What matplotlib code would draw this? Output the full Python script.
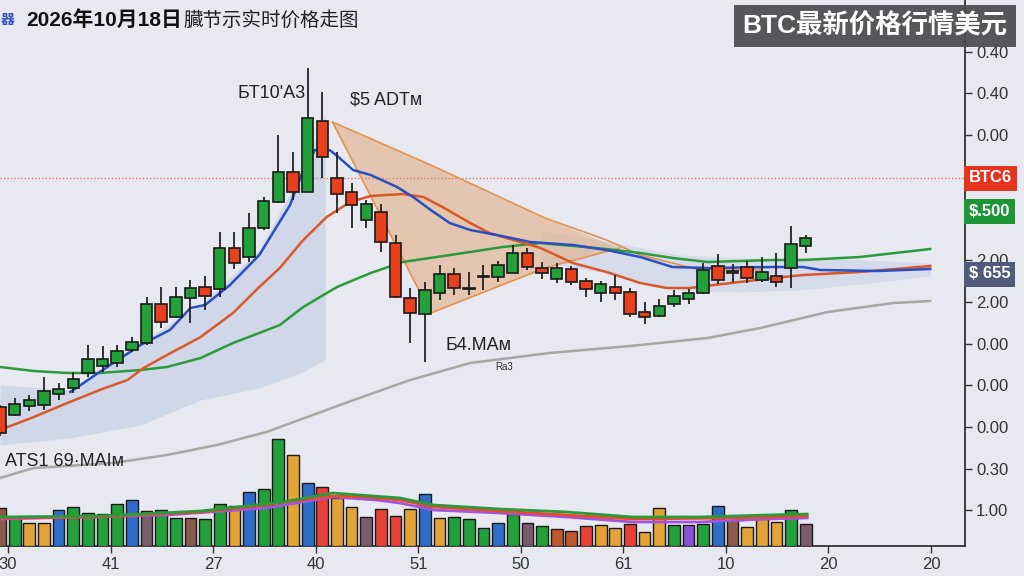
import numpy as np
import matplotlib
matplotlib.use("Agg")
import matplotlib.pyplot as plt
import matplotlib.transforms as mtransforms

plt.rcParams['font.family'] = ['Liberation Sans', 'Noto Sans CJK SC', 'DejaVu Sans']

# candles: open, high, low, close
opens  = [13.9, 13.1, 14.0, 14.1, 15.2, 15.8, 17.3, 18.0, 18.3, 19.6, 20.3, 24.2, 22.9, 24.8,
          25.9, 25.7, 29.8, 28.9, 31.8, 34.4, 37.4, 35.4, 42.5, 36.8, 35.4, 32.6, 33.4, 30.3,
          24.8, 23.2, 25.3, 27.2, 25.7, 26.9, 26.9, 27.3, 29.3, 27.8, 26.7, 27.7, 26.5, 25.3,
          25.9, 25.4, 23.4, 23.0, 24.2, 24.7, 25.3, 28.0, 27.3, 27.9, 26.6, 27.0, 27.8, 30.0]
highs  = [14.1, 14.8, 15.1, 16.9, 16.3, 17.4, 20.1, 20.0, 20.1, 20.9, 24.9, 25.9, 25.9, 26.6,
          27.0, 31.4, 31.4, 33.3, 34.9, 41.1, 39.4, 47.8, 45.4, 39.4, 36.3, 34.6, 34.2, 31.1,
          25.8, 26.4, 28.1, 27.8, 27.4, 28.1, 28.5, 30.1, 29.8, 28.4, 28.3, 28.0, 26.8, 26.5,
          27.1, 25.8, 24.4, 24.7, 25.6, 25.7, 28.3, 29.2, 28.2, 28.5, 28.9, 29.3, 32.0, 31.1]
lows   = [11.0, 13.0, 13.5, 13.6, 14.6, 15.3, 16.9, 17.4, 17.9, 19.4, 20.1, 21.8, 22.8, 22.3,
          23.6, 24.9, 27.7, 28.4, 31.6, 34.3, 34.6, 35.4, 36.8, 33.3, 31.8, 31.8, 29.4, 24.8,
          20.3, 18.4, 24.6, 25.1, 25.1, 25.6, 26.4, 27.3, 27.6, 26.7, 26.3, 26.1, 24.9, 24.4,
          24.6, 22.9, 22.2, 22.9, 23.9, 24.2, 25.2, 26.2, 26.4, 26.3, 26.4, 25.9, 25.8, 29.3]
closes = [11.3, 14.2, 14.6, 15.5, 15.7, 16.7, 18.7, 18.7, 19.5, 20.4, 24.2, 22.4, 24.9, 25.8,
          25.0, 29.8, 28.3, 31.8, 34.5, 37.4, 35.4, 42.8, 38.9, 35.2, 34.1, 34.2, 30.4, 24.9,
          23.3, 25.6, 27.2, 25.8, 25.8, 26.9, 28.1, 29.3, 27.9, 27.3, 27.8, 26.4, 25.7, 26.2,
          25.3, 23.2, 22.9, 24.0, 25.0, 25.3, 27.6, 26.6, 27.5, 26.8, 27.4, 26.4, 30.2, 30.8]

volumes = [38, 28, 23, 23, 36, 39, 33, 32, 42, 46, 35, 36, 28, 28, 27, 42, 40, 54, 57, 107,
           91, 63, 59, 48, 39, 29, 37, 30, 37, 52, 28, 29, 27, 18, 23, 32, 23, 20, 17, 15,
           20, 21, 18, 22, 14, 38, 21, 21, 22, 40, 26, 19, 27, 24, 36, 22]
vol_colors = ['brown', 'green', 'orange', 'orange', 'blue', 'green', 'green', 'green', 'green', 'blue',
              'mauve', 'green', 'green', 'brown', 'green', 'green', 'orange', 'blue', 'green', 'green',
              'orange', 'blue', 'red', 'orange', 'orange', 'mauve', 'red', 'red', 'orange', 'blue',
              'orange', 'green', 'green', 'green', 'blue', 'green', 'mauve', 'green', 'rust', 'rust',
              'red', 'orange', 'orange', 'red', 'orange', 'orange', 'green', 'purple', 'green', 'blue',
              'brown', 'orange', 'orange', 'orange', 'green', 'mauve']

# moving averages (x in candle index)
ma_blue_x = [4.8, 6.8, 9.6, 11.6, 13.0, 14.0, 15.7, 17.7, 19.8, 20.7, 21.5, 22.5, 23.1, 24.1, 25.3,
             27.1, 28.2, 29.4, 30.7, 32.1, 33.9, 36.2, 39.1, 41.4, 43.7, 45.9, 48.3, 52.8, 54.8,
             56.0, 59.9, 63.5]
ma_blue_y = [15.4, 17.4, 20.1, 21.6, 23.8, 24.1, 26.1, 29.1, 34.1, 37.6, 39.6, 39.6, 38.9, 37.6, 37.1,
             35.9, 34.9, 33.6, 32.3, 31.6, 31.1, 30.4, 30.1, 29.6, 28.9, 27.9, 27.8, 27.9, 27.9,
             27.6, 27.5, 27.7]
ma_orange_x = [0, 2.3, 4.6, 6.8, 8.7, 9.8, 11.4, 13.7, 15.9, 17.7, 19.1, 20.7, 22.3, 23.9, 25.3,
               27.5, 28.9, 30.2, 32.1, 33.4, 36.9, 39.1, 41.4, 43.7, 45.5, 47.1, 48.7, 50.5, 52.8,
               54.8, 58.7, 63.5]
ma_orange_y = [11.6, 12.9, 14.3, 15.6, 16.6, 17.8, 19.1, 20.9, 23.3, 25.9, 27.8, 30.6, 32.9, 34.4, 35.0,
               35.2, 34.9, 33.9, 32.3, 31.3, 29.8, 28.3, 27.4, 26.3, 25.8, 25.8, 26.1, 26.4, 26.8,
               27.1, 27.4, 28.0]
ma_green_x = [0, 2.3, 4.6, 6.8, 9.6, 11.4, 13.7, 15.9, 17.7, 19.1, 20.7, 23.0, 25.3, 27.5, 29.8,
              32.1, 34.3, 36.9, 41.4, 43.7, 45.9, 48.3, 52.8, 54.8, 58.7, 63.5]
ma_green_y = [17.9, 17.5, 17.3, 17.3, 17.6, 17.9, 18.8, 20.3, 21.3, 22.1, 23.9, 25.9, 27.3, 28.4, 28.9,
              29.4, 29.9, 30.3, 29.7, 29.3, 28.8, 28.4, 28.6, 28.6, 28.9, 29.7]
ma_grey_x = [0, 2.3, 4.6, 7.7, 11.4, 14.8, 18.2, 23.2, 28.0, 32.1, 37.5, 43.0, 48.3, 51.9, 56.5, 61.0, 63.5]
ma_grey_y = [6.8, 7.8, 8.0, 8.3, 9.1, 10.1, 11.4, 14.1, 16.6, 18.3, 19.3, 20.0, 20.8, 21.8, 23.4, 24.3, 24.5]

# shaded bands
band_l_x = [0, 4.8, 9.6, 13.7, 17.7, 20.5, 22.2]
band_l_hi = [16.1, 15.6, 20.4, 24.1, 29.6, 37.1, 43.1]
band_l_lo = [10.1, 10.8, 12.1, 14.6, 15.8, 17.3, 18.6]
band_r_x = [36.9, 41.0, 46.4, 50.5, 54.6, 59.4, 63.5]
band_r_hi = [31.6, 30.6, 29.1, 28.8, 28.8, 28.6, 28.3]
band_r_lo = [28.4, 27.4, 25.6, 25.4, 25.6, 26.3, 27.0]
wedge_x = [22.7, 29.4, 37.2, 42.3]
wedge_hi = [42.4, 38.1, 32.8, 29.8]
wedge_lo = [42.4, 23.3, 27.8, 29.8]
trend_x = [22.7, 29.4, 37.2, 41.4, 43.7, 47.8, 51.9]
trend_y = [42.4, 38.1, 32.8, 30.6, 29.1, 27.6, 27.6]

# volume moving averages
vma_red_x = [0, 6.8, 13.7, 18.2, 20.5, 22.7, 25.1, 27.3, 29.6, 34.1, 43.2, 50.0, 55.1]
vma_red_y = [28, 29, 34, 41, 46, 50, 49, 46, 39, 35, 27, 28, 30]
vma_green_x = [0, 6.8, 13.7, 19.3, 22.7, 27.3, 29.6, 34.1, 38.7, 43.2, 47.8, 52.4, 55.1]
vma_green_y = [29, 30, 35, 44, 53, 48, 41, 37, 34, 29, 29, 31, 32]
vma_purple_x = [0, 11.4, 18.2, 22.7, 25.7, 27.3, 29.6, 34.1, 38.7, 43.2, 47.8, 52.4, 55.1]
vma_purple_y = [27, 31, 38, 49, 46, 43, 36, 33, 29, 24, 24, 27, 28]

ytick_vals = [49.4, 45.3, 41.1, 36.9, 32.8, 28.6, 24.4, 20.2, 16.1, 11.9, 7.7, 3.6]
ytick_labels = ['0.40', '0.40', '0.00', '', '6.00', '2.00', '2.00', '0.00', '0.00', '0.00', '0.30', '1.00']
xtick_vals = [0.55, 7.55, 14.55, 21.55, 28.55, 35.55, 42.55, 49.55, 56.55, 63.55]
xtick_labels = ['30', '41', '27', '40', '51', '50', '61', '10', '20', '20']

last_price = 36.8
price_tags = [('BTC6', 36.8, '#e5331d'), ('$.500', 33.5, '#1f9636'), ('$ 655', 27.2, '#4f5b78')]

palette = {'green': '#22a03a', 'orange': '#e3a336', 'blue': '#2e6ec8', 'mauve': '#7b5c6e',
           'brown': '#8a5a4a', 'red': '#e8413a', 'rust': '#c0582e', 'purple': '#8e4fd6'}
bg = '#e8e9f0'

fig = plt.figure(figsize=(10.24, 5.76), dpi=100, facecolor=bg)
ax = fig.add_axes([0, 30 / 576, 965 / 1024, 546 / 576], facecolor=bg)
ax2 = ax.twinx()

# bands and wedge
ax.fill_between(band_l_x, band_l_lo, band_l_hi, color='#c6d0e6', alpha=0.7, lw=0, zorder=1)
ax.fill_between(band_r_x, band_r_lo, band_r_hi, color='#c9d3e8', alpha=0.6, lw=0, zorder=1)
ax.fill_between(wedge_x, wedge_lo, wedge_hi, color='#e2b48e', alpha=0.65, lw=0, zorder=1)
ax.plot(wedge_x, wedge_lo, color='#e39250', lw=1.2, zorder=2)
ax.plot(trend_x, trend_y, color='#e39250', lw=1.2, zorder=2)

ax.axhline(last_price, color='#e07a5a', lw=1, ls=(0, (1, 1.5)), zorder=1)

ax.plot(ma_grey_x, ma_grey_y, color='#a6a8a2', lw=1.8, zorder=2)
ax.plot(ma_green_x, ma_green_y, color='#2a9a3c', lw=1.8, zorder=2)
ax.plot(ma_orange_x, ma_orange_y, color='#d9582a', lw=1.8, zorder=2)
ax.plot(ma_blue_x, ma_blue_y, color='#2a4fc0', lw=1.8, zorder=2)

# candles
o = np.array(opens)
c = np.array(closes)
idx = np.arange(len(o))
up = c >= o
colors = np.where(up, '#22a03a', '#e8401c')
ax.vlines(idx, lows, highs, color='#222222', lw=1.3, zorder=3)
bottoms = np.minimum(o, c)
heights = np.maximum(np.abs(c - o), 0.15)
ax.bar(idx, heights, bottom=bottoms, width=0.78, color=colors, edgecolor='#1a1a1a', lw=1.2, zorder=4)

# volume
ax2.bar(np.arange(len(volumes)), volumes, width=0.8, color=[palette[k] for k in vol_colors],
        edgecolor='#1a1a1a', lw=1.0, zorder=2)
ax2.plot(vma_purple_x, vma_purple_y, color='#a055e0', lw=2, zorder=3)
ax2.plot(vma_red_x, vma_red_y, color='#e84a2a', lw=2, zorder=3)
ax2.plot(vma_green_x, vma_green_y, color='#2a9a3c', lw=2, zorder=3)
ax2.set_ylim(0, 546)
ax2.axis('off')

ax.set_xlim(0, 65.87)
ax.set_ylim(0, 54.6)
ax.yaxis.tick_right()
ax.set_yticks(ytick_vals)
ax.set_yticklabels(ytick_labels)
ax.set_xticks(xtick_vals)
ax.set_xticklabels(xtick_labels)
ax.tick_params(axis='y', direction='out', length=5, width=1, colors='#333333', labelsize=12, pad=3)
ax.tick_params(axis='x', direction='out', length=5, width=1, colors='#333333', labelsize=12, pad=3)
for s in ['top', 'left']:
    ax.spines[s].set_visible(False)
for s in ['right', 'bottom']:
    ax.spines[s].set_color('#333333')
    ax.spines[s].set_linewidth(1.3)

trans = mtransforms.blended_transform_factory(ax.transAxes, ax.transData)
for txt, yv, col in price_tags:
    ax.text(1.004, yv, txt, transform=trans, ha='left', va='center', color='white', fontsize=12,
            fontweight='bold', clip_on=False, zorder=10,
            bbox=dict(boxstyle='square,pad=0.3', fc=col, ec='none'))

# annotations
ax.text(16.2, 45.3, "БT10'A3", fontsize=13, color='#222222', va='center')
ax.text(23.9, 44.6, "$5 ADTм", fontsize=13, color='#222222', va='center')
ax.text(30.4, 20.1, "Б4.MAм", fontsize=13, color='#222222', va='center')
ax.text(33.8, 17.9, "Ra3", fontsize=7, color='#333333', va='center')
ax.text(0.34, 8.4, "ATS1 69·MAIм", fontsize=13, color='#222222', va='center')

# title
fig.text(0.001, 1 - 20 / 576, "器", fontsize=10, color='#3050c0', fontweight='bold', va='center',
         family=['Noto Sans CJK SC'])
fig.text(26 / 1024, 1 - 20 / 576, "2026年10月18日", fontsize=15, fontweight='bold', color='#111111',
         va='center', family=['Liberation Sans', 'Noto Sans CJK SC'])
fig.text(183 / 1024, 1 - 20 / 576, "臓节示实时价格走图", fontsize=14, fontweight='medium', color='#222222',
         va='center', family=['Noto Sans CJK SC'])
fig.text(875 / 1024, 1 - 26 / 576, "BTC最新价格行情美元", fontsize=19, fontweight='bold', color='white',
         ha='center', va='center', family=['Liberation Sans', 'Noto Sans CJK SC'],
         bbox=dict(boxstyle='square,pad=0.32', fc='#4a4a4e', ec='none', alpha=0.92))

fig.savefig('out.png', dpi=100, facecolor=bg)
